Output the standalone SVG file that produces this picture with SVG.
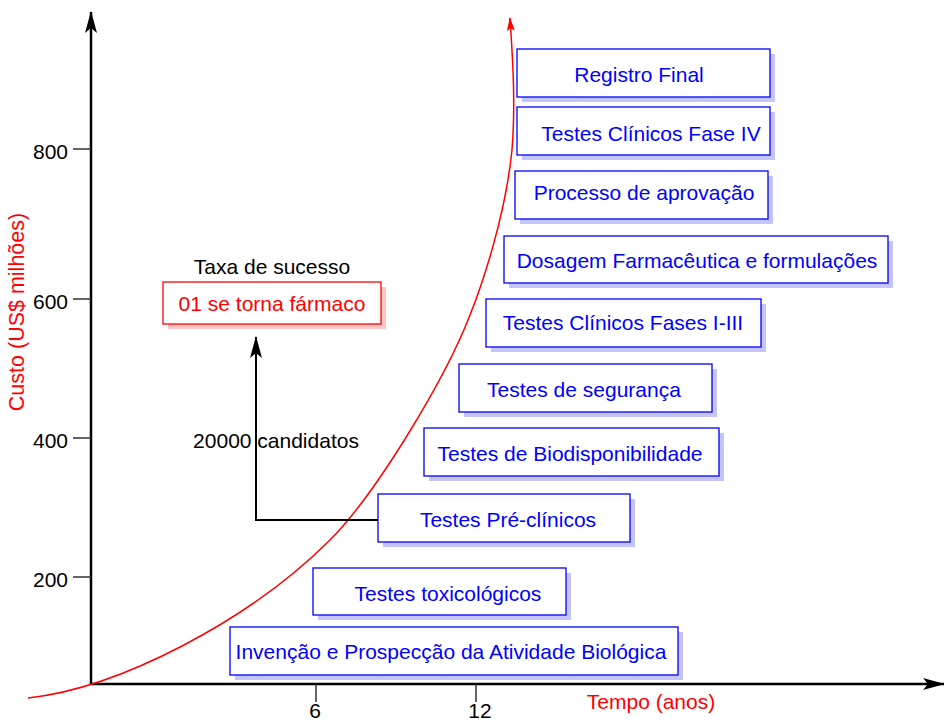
<svg xmlns="http://www.w3.org/2000/svg" width="944" height="722" viewBox="0 0 944 722">
<style>
text{font-family:"Liberation Sans",Arial,sans-serif;font-size:21px}
.bt{fill:#0000ff;text-anchor:middle}
.bx{fill:#fff;stroke:#0000ff;stroke-width:1.3}
.sh{fill:#c4c4ff}
.tk{stroke:#333;stroke-width:1.5}
.lab{fill:#000;font-size:21px}
</style>
<defs>
<marker id="ab" viewBox="0 0 22 12" refX="21" refY="6" markerWidth="22" markerHeight="12" markerUnits="userSpaceOnUse" orient="auto">
<path d="M22,6 L0,0 L5,6 L0,12 Z" fill="#000"/>
</marker>
<marker id="ar" viewBox="0 0 14 8" refX="13" refY="4" markerWidth="14" markerHeight="8" markerUnits="userSpaceOnUse" orient="auto">
<path d="M14,4 L0,0 L3,4 L0,8 Z" fill="#f00"/>
</marker>
</defs>
<rect width="944" height="722" fill="#fff"/>

<g id="axes">
<line x1="91" y1="684" x2="91" y2="12" stroke="#000" stroke-width="2.5" marker-end="url(#ab)"/>
<line x1="91" y1="684" x2="944" y2="684" stroke="#000" stroke-width="2.5" marker-end="url(#ab)"/>
<line class="tk" x1="73" y1="149" x2="91" y2="149"/>
<line class="tk" x1="73" y1="299" x2="91" y2="299"/>
<line class="tk" x1="73" y1="438" x2="91" y2="438"/>
<line class="tk" x1="73" y1="577" x2="91" y2="577"/>
<line class="tk" x1="316" y1="684" x2="316" y2="702"/>
<line class="tk" x1="476" y1="684" x2="476" y2="702"/>
<text class="lab" x="68" y="159" text-anchor="end">800</text>
<text class="lab" x="68" y="309" text-anchor="end">600</text>
<text class="lab" x="68" y="448" text-anchor="end">400</text>
<text class="lab" x="68" y="587" text-anchor="end">200</text>
<text class="lab" x="315" y="718" text-anchor="middle">6</text>
<text class="lab" x="480" y="718" text-anchor="middle">12</text>
<text x="651" y="709" fill="#f00" text-anchor="middle">Tempo (anos)</text>
<text x="0" y="0" fill="#f00" text-anchor="middle" style="font-size:21.5px" transform="translate(24,312) rotate(-90)">Custo (US$ milhões)</text>
</g>

<g id="curve">
<path d="M28,698 C120,688 250,620 330,540 C375,495 445,380 470,315 C480,290 505,220 512,150 C516,100 512,50 510,18" fill="none" stroke="#f00" stroke-width="1.5" marker-end="url(#ar)"/>
</g>

<g id="connectors">
<path d="M378,520 L256,520 L256,337" fill="none" stroke="#000" stroke-width="2" marker-end="url(#ab)"/>
</g>

<g id="success">
<text x="272" y="274" text-anchor="middle" fill="#000">Taxa de sucesso</text>
<rect x="168" y="287" width="218" height="42" fill="#ffc4c4"/>
<rect x="163" y="282" width="218" height="42" fill="#fff" stroke="#f00" stroke-width="1.3"/>
<text x="272" y="311" text-anchor="middle" fill="#f00">01 se torna fármaco</text>
</g>
<g id="candidatos">
<text x="276" y="448" text-anchor="middle" fill="#000">20000 candidatos</text>
</g>

<g id="n1"><rect class="sh" x="522" y="54" width="253" height="48"/><rect class="bx" x="517" y="49" width="253" height="48"/><text class="bt" x="639" y="82">Registro Final</text></g>
<g id="n2"><rect class="sh" x="522" y="112" width="253" height="48"/><rect class="bx" x="517" y="107" width="253" height="48"/><text class="bt" x="651" y="141">Testes Clínicos Fase IV</text></g>
<g id="n3"><rect class="sh" x="520" y="176" width="253" height="48"/><rect class="bx" x="515" y="171" width="253" height="48"/><text class="bt" x="644" y="200">Processo de aprovação</text></g>
<g id="n4"><rect class="sh" x="509" y="241" width="384" height="47"/><rect class="bx" x="504" y="236" width="384" height="47"/><text class="bt" x="697" y="268">Dosagem Farmacêutica e formulações</text></g>
<g id="n5"><rect class="sh" x="491" y="304" width="275" height="48"/><rect class="bx" x="486" y="299" width="275" height="48"/><text class="bt" x="623" y="330">Testes Clínicos Fases I-III</text></g>
<g id="n6"><rect class="sh" x="464" y="369" width="253" height="48"/><rect class="bx" x="459" y="364" width="253" height="48"/><text class="bt" x="584" y="397">Testes de segurança</text></g>
<g id="n7"><rect class="sh" x="429" y="433" width="295" height="48"/><rect class="bx" x="424" y="428" width="295" height="48"/><text class="bt" x="570" y="461">Testes de Biodisponibilidade</text></g>
<g id="n8"><rect class="sh" x="383" y="499" width="252" height="48"/><rect class="bx" x="378" y="494" width="252" height="48"/><text class="bt" x="508" y="527">Testes Pré-clínicos</text></g>
<g id="n9"><rect class="sh" x="318" y="573" width="253" height="47"/><rect class="bx" x="313" y="568" width="253" height="47"/><text class="bt" x="448" y="601">Testes toxicológicos</text></g>
<g id="n10"><rect class="sh" x="235" y="632" width="448" height="48"/><rect class="bx" x="230" y="627" width="448" height="48"/><text class="bt" x="451" y="659">Invenção e Prospecção da Atividade Biológica</text></g>
</svg>
